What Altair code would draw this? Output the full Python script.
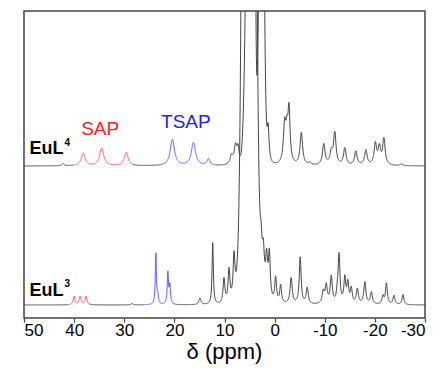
import numpy as np
import pandas as pd
import altair as alt

# ---- peak lists (ppm, height, half-width) ----
# EuL4 trace (intensity units above its own baseline)
L4_pos = [42.2, 38.2, 34.5, 29.6, 20.4, 16.2, 13.2, 8.6, 7.8, 7.3, 3.9, 1.3,
          -2.0, -2.45, -2.87, -5.33, -7.0, -9.8, -11.3, -12.0, -14.0, -16.2,
          -18.2, -20.1, -20.9, -21.8, -25.3]
L4_height = [2, 12.5, 17.5, 13.5, 26.5, 23, 6.5, 9, 18, 16, 300, 38,
             38, 25, 52, 32, 2.5, 21, 12, 32, 17, 14,
             15, 21, 17, 26, 1.5]
L4_width = [0.3, 0.45, 0.5, 0.45, 0.5, 0.5, 0.35, 0.35, 0.3, 0.25, 0.12, 0.25,
            0.3, 0.25, 0.25, 0.3, 0.3, 0.3, 0.3, 0.3, 0.3, 0.3,
            0.3, 0.3, 0.3, 0.3, 0.3]
L4_broad_pos = [5.0, 2.6]
L4_broad_height = [450, 450]
L4_broad_sigma = [0.6, 0.42]

# EuL3 trace
L3_pos = [40.0, 38.8, 37.6, 28.5, 23.7, 23.3, 21.3, 20.9, 14.9, 12.35, 10.1, 9.1,
          8.1, 2.7, 2.25, 1.6, 1.05, -0.2, -1.2, -3.3, -5.1, -6.5, -9.7, -10.3,
          -11.3, -12.5, -12.85, -14.0, -14.6, -15.3, -16.5, -18.0, -19.3, -21.6,
          -22.3, -23.8, -25.6]
L3_height = [8.5, 8.5, 8.5, 1.5, 52, 8, 32, 18, 6.5, 62, 25, 33,
             42, 30, 35, 38, 45, 25, 18, 26, 47, 16, 12, 18,
             27, 8, 48, 25, 20, 15, 15, 22, 12, 8,
             21, 9, 10]
L3_width = [0.22, 0.22, 0.22, 0.2, 0.13, 0.15, 0.15, 0.15, 0.25, 0.15, 0.22, 0.22,
            0.22, 0.25, 0.25, 0.25, 0.22, 0.22, 0.22, 0.25, 0.22, 0.25, 0.25, 0.25,
            0.25, 0.2, 0.22, 0.22, 0.22, 0.22, 0.25, 0.25, 0.25, 0.22,
            0.22, 0.22, 0.22]
L3_broad_pos = [5.1, 5.0]
L3_broad_height = [3000, 110]
L3_broad_sigma = [0.73, 1.4]

# vertical offsets of the two traces
offsets = {"EuL4": 139, "EuL3": 0}

# coloured regions (high ppm, low ppm, colour key)
L4_regions = [(50, 40.2, "k"), (40.2, 28.2, "r"), (28.2, 22.4, "k"),
              (22.4, 11.9, "b"), (11.9, -30, "k")]
L3_regions = [(50, 41.2, "k"), (41.2, 37.0, "r"), (37.0, 25.9, "k"),
              (25.9, 20.2, "b"), (20.2, -30, "k")]

x_ticks = [50, 40, 30, 20, 10, 0, -10, -20, -30]
x_title = "δ (ppm)"

# ---- build the traces ----
grid = np.round(np.arange(-30, 50.0001, 0.04), 3)


def spectrum(pos, h, w, bpos, bh, bs):
    y = np.zeros_like(grid)
    for c, a, g in zip(pos, h, w):
        y += a / (1 + ((grid - c) / g) ** 2)
    for c, a, s in zip(bpos, bh, bs):
        y += a * np.exp(-((grid - c) ** 2) / (2 * s * s))
    return y


frames = []
for name, spec, regions in [
    ("EuL4", spectrum(L4_pos, L4_height, L4_width, L4_broad_pos, L4_broad_height, L4_broad_sigma), L4_regions),
    ("EuL3", spectrum(L3_pos, L3_height, L3_width, L3_broad_pos, L3_broad_height, L3_broad_sigma), L3_regions),
]:
    yv = np.minimum(spec + offsets[name], 400)
    for i, (hi, lo, col) in enumerate(regions):
        m = (grid <= hi + 1e-9) & (grid >= lo - 1e-9)
        frames.append(pd.DataFrame({"ppm": grid[m], "v": yv[m],
                                    "part": f"{name}_{i}", "col": col}))
df = pd.concat(frames, ignore_index=True)

xscale = alt.Scale(domain=[-30, 50], reverse=True, nice=False, zero=False)
yscale = alt.Scale(domain=[-13, 294], nice=False, zero=False)

lines = alt.Chart(df).mark_line(strokeWidth=1, clip=True).encode(
    x=alt.X("ppm:Q", scale=xscale,
            axis=alt.Axis(values=x_ticks, labelExpr="'' + datum.value",
                          title=None, grid=False, domain=False,
                          tickSize=4, tickColor="#444444", tickWidth=1.2,
                          labelFont="Liberation Sans", labelFontSize=17,
                          labelColor="black", labelPadding=0)),
    y=alt.Y("v:Q", scale=yscale, axis=None),
    color=alt.Color("col:N", scale=alt.Scale(domain=["k", "r", "b"],
                                             range=["#454545", "#ff5a5a", "#6060ff"]),
                    legend=None),
    detail="part:N",
)

# ---- annotations ----
names_df = pd.DataFrame({"t": ["EuL", "EuL"], "ppm": [48.9, 48.9], "v": [151, 9.3]})
sup_df = pd.DataFrame({"t": ["4", "3"], "ppm": [41.9, 41.9], "v": [159, 18]})
sap_df = pd.DataFrame({"t": ["SAP"], "ppm": [34.8], "v": [170]})
tsap_df = pd.DataFrame({"t": ["TSAP"], "ppm": [17.7], "v": [177]})
title_df = pd.DataFrame({"t": [x_title], "ppm": [10.0]})


def text_layer(d, size, weight, color, align):
    return alt.Chart(d).mark_text(font="Liberation Sans", fontSize=size,
                                  fontWeight=weight, color=color, align=align,
                                  baseline="alphabetic").encode(
        x=alt.X("ppm:Q", scale=xscale), y=alt.Y("v:Q", scale=yscale), text="t:N")


title_layer = alt.Chart(title_df).mark_text(
    font="Liberation Sans", fontSize=22, color="black", align="center",
    baseline="alphabetic").encode(
    x=alt.X("ppm:Q", scale=xscale), y=alt.value(348), text="t:N")

chart = alt.layer(
    lines,
    text_layer(names_df, 18, "bold", "black", "left"),
    text_layer(sup_df, 10, "bold", "black", "left"),
    text_layer(sap_df, 19, "normal", "#ff2020", "center"),
    text_layer(tsap_df, 19, "normal", "#2020ff", "center"),
    title_layer,
).properties(
    width=401, height=307,
    padding={"left": 16, "top": 3, "right": 6, "bottom": 46},
    autosize=alt.AutoSizeParams(type="none"),
).configure_view(stroke="#444444", strokeWidth=1.5)

chart.save("out.html", embed_options={"renderer": "svg", "actions": False})
